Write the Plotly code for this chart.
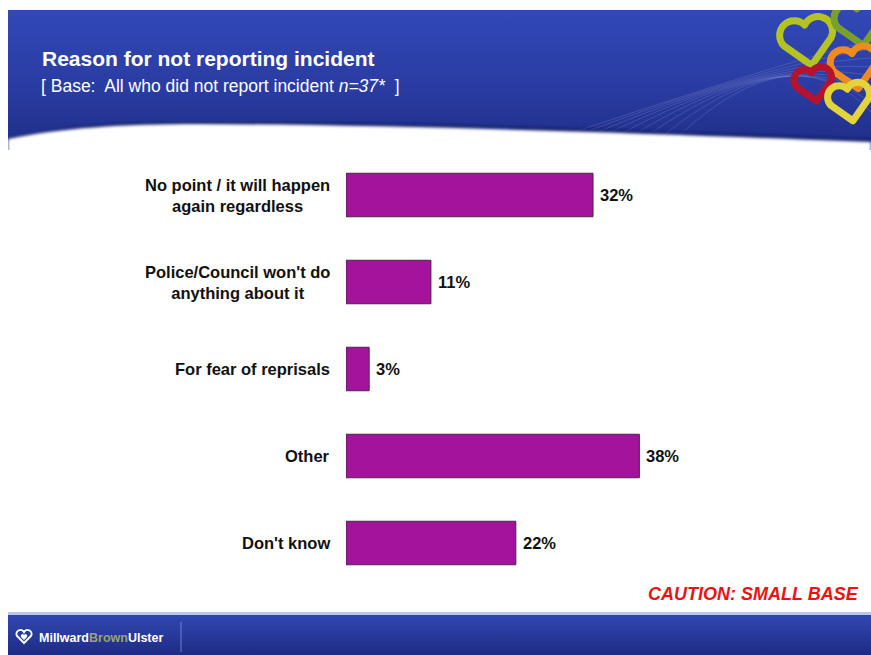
import base64
import plotly.graph_objects as go

# Survey responses: reason for not reporting an incident
reasons = [
    "No point / it will happen<br>again regardless",
    "Police/Council won't do<br>anything about it",
    "For fear of reprisals",
    "Other",
    "Don't know",
]
shares = [32, 11, 3, 38, 22]

W, H = 871, 655
BAR_FILL = "#A3139B"
BAR_EDGE = "#4A2547"

# --- slide background: header banner, footer band and heart logo (SVG) ---
def heart(cx, cy, s, color, sw=7):
    return (
        f'<path transform="translate({cx},{cy}) rotate(-10) scale({s})" '
        f'd="M0,9 L-10,-1 A5.6,5.6 0 0 1 0,-8 A5.6,5.6 0 0 1 10,-1 Z" '
        f'fill="none" stroke="{color}" stroke-width="{sw / s}" stroke-linejoin="round"/>'
    )

swooshes = "".join(
    f'<path d="M{520 + i * 18},{150} C{640 + i * 12},{110 - i * 4} {760 + i * 6},{70 - i * 3} 871,{40 + i * 9}" '
    f'fill="none" stroke="#ffffff" stroke-opacity="0.13" stroke-width="1"/>'
    for i in range(9)
)

svg = f'''<svg xmlns="http://www.w3.org/2000/svg" width="{W}" height="{H}" viewBox="0 0 {W} {H}">
<defs>
 <linearGradient id="hdr" x1="0" y1="0" x2="0" y2="1">
  <stop offset="0" stop-color="#3148B6"/>
  <stop offset="0.55" stop-color="#2A3CA3"/>
  <stop offset="1" stop-color="#1F2D86"/>
 </linearGradient>
 <linearGradient id="ftr" x1="0" y1="0" x2="0" y2="1">
  <stop offset="0" stop-color="#3249B4"/>
  <stop offset="1" stop-color="#1E2B84"/>
 </linearGradient>
 <filter id="soft"><feGaussianBlur stdDeviation="1.6"/></filter>
 <clipPath id="hclip"><rect x="8" y="10" width="{W - 8}" height="140"/></clipPath>
</defs>
<rect x="0" y="0" width="{W}" height="{H}" fill="#ffffff"/>
<g clip-path="url(#hclip)">
 <rect x="8" y="10" width="{W - 8}" height="140" fill="url(#hdr)"/>
 {swooshes}
 <g>
  {heart(808, 44, 2.4, "#B5C224")}
  {heart(860, 26, 2.2, "#79A02A")}
  {heart(855, 70, 2.1, "#EE8A1E")}
  {heart(814, 86, 1.7, "#B5122E")}
  {heart(850, 104, 1.9, "#E2D43A")}
 </g>
 <path d="M8,140 C60,128 120,124 200,123 C420,124 690,134 871,141" fill="none"
       stroke="#101a5a" stroke-width="4" filter="url(#soft)" opacity="0.8"/>
 <path d="M8,139 C60,128 120,124 200,124 C420,125 690,135 871,142 L871,160 L8,160 Z"
       fill="#ffffff" filter="url(#soft)"/>
</g>
<rect x="8" y="612" width="{W - 8}" height="{H - 612}" fill="url(#ftr)"/>
<rect x="8" y="612" width="{W - 8}" height="3" fill="#BCC6EA"/>
<line x1="181" y1="622" x2="181" y2="652" stroke="#6E80C8" stroke-width="1"/>
<g transform="translate(24,638)">
 <path d="M0,5 L-7,-2 A3.8,3.8 0 0 1 0,-6 A3.8,3.8 0 0 1 7,-2 Z" fill="none" stroke="#ffffff" stroke-width="2"/>
 <path d="M0,2 L-3,-1 A1.6,1.6 0 0 1 0,-3 A1.6,1.6 0 0 1 3,-1 Z" fill="#ffffff"/>
</g>
</svg>'''

bg_uri = "data:image/svg+xml;base64," + base64.b64encode(svg.encode()).decode()

fig = go.Figure(
    go.Bar(
        x=shares,
        y=reasons,
        orientation="h",
        width=0.5,
        marker=dict(color=BAR_FILL, line=dict(color=BAR_EDGE, width=1)),
        hoverinfo="skip",
    )
)

LABEL_FONT = dict(family="Liberation Sans, Arial, sans-serif", size=16.5, color="#111111")

for r, v in zip(reasons, shares):
    # Value labels at the bar ends
    fig.add_annotation(
        x=v, y=r, text=f"<b>{v}%</b>", showarrow=False,
        xanchor="left", xshift=5, font=LABEL_FONT,
    )
    # Category labels, centred lines, right edge near the axis
    fig.add_annotation(
        x=0, y=r, text=f"<b>{r}</b>", showarrow=False,
        xanchor="right", align="center", xshift=-14, font=LABEL_FONT,
    )

TITLE_FONT = "Liberation Sans Narrow, Arial Narrow, Liberation Sans, sans-serif"

fig.add_annotation(
    xref="paper", yref="paper", x=40 / W, y=1 - 59 / H,
    xanchor="left", yanchor="middle", showarrow=False,
    text="<b>Reason for not reporting incident</b>",
    font=dict(family=TITLE_FONT, size=21, color="#ffffff"),
)
fig.add_annotation(
    xref="paper", yref="paper", x=39 / W, y=1 - 86 / H,
    xanchor="left", yanchor="middle", showarrow=False,
    text="[ Base:  All who did not report incident <i>n=37*</i>  ]",
    font=dict(family=TITLE_FONT, size=17.5, color="#ffffff"),
)
fig.add_annotation(
    xref="paper", yref="paper", x=861 / W, y=1 - 594 / H,
    xanchor="right", yanchor="middle", showarrow=False,
    text="<b><i>CAUTION: SMALL BASE</i></b>",
    font=dict(family=TITLE_FONT, size=18, color="#EE1111"),
)
fig.add_annotation(
    xref="paper", yref="paper", x=37 / W, y=1 - 638 / H,
    xanchor="left", yanchor="middle", showarrow=False,
    text="<b>Millward<span style='color:#9AA27A'>Brown</span>Ulster</b>",
    font=dict(family=TITLE_FONT, size=12.5, color="#ffffff"),
)

X_MAX = 45
x0_px, px_per_unit = 346, 7.72
fig.update_layout(
    width=W, height=H,
    margin=dict(l=0, r=0, t=0, b=0),
    paper_bgcolor="#ffffff",
    plot_bgcolor="rgba(0,0,0,0)",
    showlegend=False,
    images=[dict(
        source=bg_uri, xref="paper", yref="paper", x=0, y=1,
        sizex=1, sizey=1, sizing="stretch", layer="below",
        xanchor="left", yanchor="top",
    )],
    xaxis=dict(
        range=[0, X_MAX],
        domain=[x0_px / W, (x0_px + X_MAX * px_per_unit) / W],
        visible=False, fixedrange=True,
    ),
    yaxis=dict(
        autorange="reversed",
        domain=[1 - 586.5 / H, 1 - 151.5 / H],
        showticklabels=False, showgrid=False, zeroline=False,
        showline=False, ticks="", fixedrange=True,
    ),
)

fig.write_html("out.html")
